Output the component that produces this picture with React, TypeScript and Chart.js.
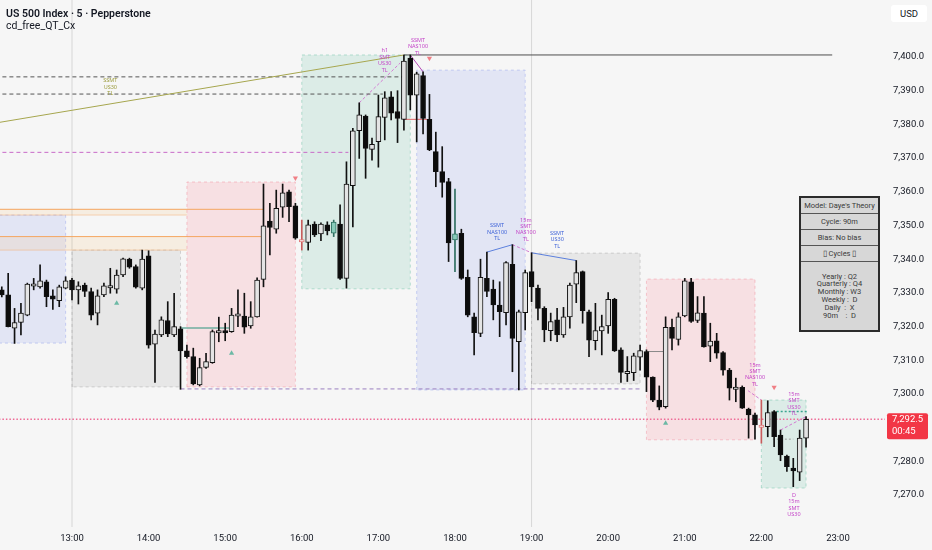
import React, { useEffect, useRef } from "react";
import { Chart, registerables } from "chart.js";

Chart.register(...registerables);

// 5-minute candles; x is counted in bars from 13:00 (bar -11 = 12:05)
const FIRST_BAR = -11;

const opens = [
  7330.9, 7329.4, 7319.5, 7321.2, 7323.4, 7332.2, 7331.8, 7333.3, 7329.1, 7327.7, 7331.4,
  7333.8, 7330.9, 7332.3, 7330.4, 7324.0, 7329.4, 7331.7, 7331.1, 7335.3, 7340.0, 7337.8, 7331.4,
  7341.0, 7314.8, 7317.5, 7321.8, 7317.5, 7319.3, 7312.8, 7311.1, 7302.7, 7307.9, 7309.3, 7318.4,
  7318.6, 7318.5, 7323.3, 7323.1, 7320.2, 7322.9, 7334.0, 7351.3, 7348.9, 7355.4, 7360.0, 7355.8,
  7345.2, 7345.0, 7350.4, 7347.5, 7350.2, 7347.7, 7350.4, 7334.3, 7361.8, 7378.1, 7382.5, 7372.6,
  7374.9, 7382.1, 7388.2, 7383.8, 7381.5, 7399.7, 7388.7, 7394.5, 7381.5, 7371.9, 7366.0, 7363.0,
  7345.7, 7347.7, 7334.6, 7322.9, 7318.0, 7334.3, 7331.1, 7326.4, 7324.1, 7338.5, 7315.5, 7324.1,
  7336.3, 7331.4, 7325.4, 7318.8, 7322.0, 7317.5, 7322.9, 7332.6, 7336.3, 7324.4, 7315.8, 7318.7,
  7320.2, 7328.1, 7313.1, 7306.3, 7306.3, 7310.9, 7312.6, 7305.0, 7298.2, 7296.2, 7319.8, 7316.2,
  7323.2, 7333.3, 7321.8, 7324.0, 7314.2, 7315.8, 7312.3, 7307.1, 7301.6, 7302.0, 7295.5, 7293.8,
  7290.1, 7290.3, 7294.8, 7287.8, 7281.6, 7278.0, 7276.8, 7286.9,
];
const highs = [
  7331.8, 7335.8, 7325.4, 7326.9, 7332.9, 7334.3, 7338.3, 7333.8, 7330.9, 7332.3, 7334.8,
  7334.3, 7333.3, 7332.9, 7331.4, 7330.9, 7332.9, 7337.3, 7336.8, 7340.3, 7340.3, 7338.3, 7342.7,
  7342.5, 7319.0, 7322.9, 7327.4, 7329.9, 7320.0, 7314.5, 7313.6, 7310.6, 7312.1, 7319.0, 7322.8,
  7321.0, 7325.4, 7330.9, 7329.9, 7327.4, 7334.5, 7362.3, 7356.6, 7360.5, 7362.3, 7360.5, 7356.6,
  7351.6, 7351.6, 7351.1, 7350.8, 7351.1, 7351.6, 7356.1, 7368.9, 7378.8, 7386.4, 7382.8, 7375.9,
  7388.7, 7389.7, 7389.7, 7390.0, 7400.6, 7400.6, 7395.5, 7395.6, 7388.9, 7377.7, 7373.4, 7364.0,
  7360.8, 7348.9, 7336.8, 7324.0, 7340.0, 7342.1, 7333.8, 7333.3, 7339.3, 7344.3, 7324.9, 7336.8,
  7341.9, 7332.3, 7325.9, 7324.0, 7325.4, 7325.7, 7332.9, 7339.6, 7336.5, 7324.9, 7326.9, 7323.4,
  7330.1, 7328.4, 7313.7, 7311.1, 7312.1, 7314.5, 7313.1, 7305.1, 7302.4, 7322.9, 7322.2, 7324.1,
  7334.3, 7334.3, 7328.9, 7328.9, 7321.0, 7318.0, 7312.6, 7307.6, 7304.7, 7302.4, 7295.8, 7294.3,
  7298.2, 7298.0, 7295.1, 7289.3, 7281.9, 7280.9, 7289.3, 7293.3,
];
const lows = [
  7328.8, 7319.9, 7315.0, 7317.5, 7323.2, 7330.9, 7331.4, 7325.9, 7325.1, 7325.9, 7331.2,
  7327.9, 7326.7, 7328.9, 7322.0, 7320.5, 7328.9, 7329.9, 7329.9, 7334.8, 7337.3, 7331.4, 7330.9,
  7313.6, 7303.4, 7317.0, 7317.0, 7317.0, 7301.4, 7310.6, 7302.7, 7302.4, 7307.6, 7309.1, 7315.5,
  7315.8, 7318.3, 7320.0, 7318.0, 7319.5, 7322.8, 7331.8, 7341.3, 7347.7, 7352.4, 7351.1, 7345.9,
  7342.7, 7342.7, 7346.7, 7345.5, 7347.2, 7346.7, 7334.0, 7331.4, 7349.6, 7369.9, 7364.0, 7369.4,
  7367.3, 7375.4, 7381.3, 7374.6, 7378.3, 7384.3, 7374.8, 7377.2, 7372.2, 7361.5, 7358.4, 7339.3,
  7336.3, 7334.0, 7322.9, 7311.6, 7317.0, 7328.9, 7322.0, 7317.0, 7320.5, 7306.6, 7301.2, 7319.0,
  7327.4, 7322.0, 7315.5, 7315.8, 7315.5, 7316.8, 7319.5, 7327.1, 7321.0, 7311.1, 7313.1, 7311.6,
  7318.0, 7312.6, 7303.4, 7303.7, 7304.0, 7307.1, 7300.7, 7297.7, 7295.3, 7295.8, 7313.1, 7314.5,
  7322.9, 7321.2, 7321.2, 7313.9, 7309.6, 7310.6, 7305.6, 7298.2, 7297.7, 7295.7, 7286.9, 7286.6,
  7285.4, 7287.3, 7284.4, 7280.2, 7277.0, 7272.5, 7274.3, 7284.2,
];
const closes = [
  7329.4, 7320.0, 7321.2, 7324.0, 7332.6, 7332.5, 7333.6, 7328.9, 7328.1, 7331.8, 7333.6,
  7330.9, 7332.1, 7330.4, 7323.4, 7329.1, 7332.1, 7332.0, 7335.3, 7340.1, 7337.6, 7331.7, 7340.0,
  7314.5, 7317.8, 7322.0, 7317.8, 7320.0, 7312.8, 7311.1, 7303.0, 7307.8, 7309.6, 7318.5, 7318.6,
  7318.4, 7323.4, 7323.6, 7319.8, 7322.9, 7333.8, 7349.9, 7349.4, 7355.1, 7359.7, 7355.6, 7346.2,
  7345.7, 7350.2, 7347.2, 7350.4, 7348.4, 7351.0, 7334.3, 7362.3, 7378.1, 7382.8, 7372.9, 7374.1,
  7382.3, 7387.9, 7383.3, 7381.8, 7398.8, 7388.7, 7395.0, 7381.8, 7372.4, 7366.0, 7362.8, 7344.8,
  7347.5, 7334.3, 7323.4, 7318.2, 7334.6, 7330.4, 7326.4, 7324.4, 7339.0, 7316.5, 7324.4, 7336.0,
  7331.8, 7325.4, 7319.0, 7321.5, 7317.5, 7322.9, 7332.3, 7336.0, 7324.7, 7316.0, 7318.8, 7320.0,
  7328.1, 7312.8, 7306.4, 7306.5, 7311.3, 7312.9, 7305.0, 7298.2, 7296.1, 7319.8, 7316.5, 7322.9,
  7333.6, 7321.5, 7324.1, 7314.0, 7315.7, 7312.1, 7307.1, 7301.7, 7301.8, 7295.8, 7293.8, 7290.8,
  7290.8, 7294.5, 7287.3, 7281.9, 7278.4, 7277.2, 7286.9, 7292.5,
];

// indicator-highlighted candles (bar numbers from 13:00)
const tealBars = [41, 60];
const pinkBars = [36, 108];

const timeTicks = ["13:00", "14:00", "15:00", "16:00", "17:00", "18:00", "19:00", "20:00", "21:00", "22:00", "23:00"];
const priceTicks = [7270, 7280, 7290, 7300, 7310, 7320, 7330, 7340, 7350, 7360, 7370, 7380, 7390, 7400];

const lastPrice = 7292.5;
const countdown = "00:45";

// 90-minute cycle boxes
const boxFrom = [-12, 0, 18, 36, 54, 72, 90, 108];
const boxTo = [-1, 17, 35, 53, 71, 89, 107, 115];
const boxTop = [7353.1, 7342.7, 7362.9, 7400.6, 7396.1, 7341.8, 7334.1, 7298.2];
const boxBottom = [7315.1, 7302.1, 7302.1, 7331.2, 7301.2, 7303.0, 7286.4, 7272.1];
const boxKind = ["blue", "gray", "pink", "green", "blue", "gray", "pink", "green"];

// faint orange zones
const bandFrom = [-12, -12];
const bandTo = [18, 18];
const bandTop = [7354.8, 7346.7];
const bandBottom = [7353.1, 7342.7];

// drawn segments
const segX0 = [-12, 52, -12, -12, -12, -12, -12, -12, -12, 17.1, 89.9, 17, 65, 72, 69, 45, 53, 51.9, 105.9, 111, 110.4, 109.8, 0, 72, -12];
const segY0 = [7380.4, 7400.6, 7394.1, 7389.0, 7371.7, 7354.8, 7346.7, 7353.1, 7342.7, 7319.6, 7312.6, 7301.5, 7342.1, 7341.9, 7344.3, 7386.4, 7400.6, 7381.5, 7301.0, 7289.3, 7294.8, 7286.6, 7255, 7255, 7292.5];
const segX1 = [52, 119.1, 51.9, 48.7, 43.3, 30, 30, 18, 18, 24.8, 92.8, 89, 69, 79, 72, 51.4, 55, 55.7, 108, 115, 115.1, 113, 0, 72, 128];
const segY1 = [7400.6, 7400.6, 7394.1, 7389.0, 7371.7, 7354.8, 7346.7, 7353.1, 7342.7, 7319.6, 7312.6, 7301.5, 7344.3, 7339.6, 7341.9, 7398.2, 7395.6, 7381.5, 7298.2, 7293.3, 7294.8, 7286.6, 7420, 7420, 7292.5];
const segKind = ["olive", "dark", "dashDark", "dashDark", "dashPink", "orange", "orange", "orangeFaint", "orangeFaint", "teal", "gray", "dashPurple", "blue", "blue", "smtDash", "smtDash", "magenta", "red", "smtDash", "smtDash", "dotTeal", "dotGray", "vline", "vline", "dotPrice"];

// signal triangles
const upX = [7, 25, 93];
const upY = [7326.9, 7312.1, 7291.3];
const downX = [35, 56, 110];
const downY = [7364.1, 7399.6, 7302.0];

// small SMT texts
const labelX = [6, 49, 54.2, 66.6, 71.1, 76, 107, 113.1, 113.1];
const labelY = [7392.9, 7401.8, 7404.9, 7349.9, 7351.6, 7347.7, 7308.6, 7299.9, 7269.9];
const labelLines = [
  ["SSMT", "US30", "TL"],
  ["h1", "SMT", "US30", "TL"],
  ["SSMT", "NAS100", "TL"],
  ["SSMT", "NAS100", "TL"],
  ["15m", "SMT", "NAS100", "TL"],
  ["SSMT", "US30", "TL"],
  ["15m", "SMT", "NAS100", "TL"],
  ["15m", "SMT", "US30", "TL"],
  ["D", "15m", "SMT", "US30"],
];
const labelKind = ["olive", "magenta", "magenta", "blue", "magenta", "blue", "magenta", "magenta", "magenta"];

const tableRows = ["Model: Daye's Theory", "Cycle: 90m", "Bias: No bias", "▯ Cycles ▯"];
const cycleLines = ["Yearly : Q2", "Quarterly : Q4", "Monthly : W3", "Weekly :  D", "Daily  :  X", "90m    :  D"];

// ---- scale ranges (pixel fit of the reference: plot 0..885 x 0..527)
const X_MIN = -11.28;
const X_MAX = 127.37;
const Y_MIN = 7260.53;
const Y_MAX = 7416.91;

const BOX_STYLE: Record<string, { fill: string; border: string }> = {
  blue: { fill: "rgba(113,133,233,0.15)", border: "rgba(113,133,233,0.35)" },
  gray: { fill: "rgba(140,140,140,0.14)", border: "rgba(140,140,140,0.35)" },
  pink: { fill: "rgba(255,93,113,0.14)", border: "rgba(240,110,130,0.35)" },
  green: { fill: "rgba(86,186,153,0.16)", border: "rgba(86,186,153,0.4)" },
};
const SEG_STYLE: Record<string, { color: string; width: number; dash: number[] }> = {
  olive: { color: "#a6a64e", width: 1, dash: [] },
  dark: { color: "#4d4d4d", width: 1, dash: [] },
  dashDark: { color: "#555", width: 1, dash: [4, 3] },
  dashPink: { color: "#c86ac8", width: 1, dash: [4, 3] },
  orange: { color: "#f4a55f", width: 1, dash: [] },
  orangeFaint: { color: "rgba(244,165,95,0.45)", width: 1, dash: [] },
  teal: { color: "#6fae9f", width: 1.5, dash: [] },
  gray: { color: "#8a8a8a", width: 1, dash: [] },
  dashPurple: { color: "#9a7fc0", width: 1, dash: [4, 3] },
  blue: { color: "#5b7fdc", width: 1, dash: [] },
  smtDash: { color: "#d27ad2", width: 1, dash: [3, 2] },
  magenta: { color: "#b449b4", width: 1, dash: [] },
  red: { color: "#e06666", width: 1, dash: [] },
  dotTeal: { color: "#3aa58f", width: 1.5, dash: [2, 2] },
  dotGray: { color: "#999", width: 1, dash: [2, 2] },
  dotPrice: { color: "#ee6a96", width: 1.5, dash: [1.5, 2] },
  vline: { color: "rgba(0,0,0,0.13)", width: 1, dash: [] },
};
const LABEL_COLOR: Record<string, string> = {
  olive: "#9a9a3a",
  magenta: "#c445c8",
  blue: "#3f63d8",
};
const FONT = 'Roboto, "Noto Sans", sans-serif';

const toBar = (t: string) => {
  const [h, m] = t.split(":").map(Number);
  return (h * 60 + m - 780) / 5;
};
const fmtTime = (b: number) => {
  const m = 780 + b * 5;
  const h = Math.floor(m / 60);
  const mm = Math.round(m % 60);
  return `${h}:${mm < 10 ? "0" + mm : mm}`;
};
const fmtPrice = (v: number) =>
  v.toLocaleString("en-US", { minimumFractionDigits: 1, maximumFractionDigits: 1 });

function buildDatasets() {
  const ds: any[] = [];
  const barX = opens.map((_, i) => FIRST_BAR + i);

  // boxes
  boxFrom.forEach((x0, i) => {
    const st = BOX_STYLE[boxKind[i]];
    const x1 = boxTo[i];
    ds.push({
      type: "line",
      data: [{ x: x0, y: boxTop[i] }, { x: x1, y: boxTop[i] }],
      fill: { value: boxBottom[i] },
      backgroundColor: st.fill,
      borderWidth: 0,
      pointRadius: 0,
      order: 20,
    });
    ds.push({
      type: "line",
      data: [
        { x: x0, y: boxBottom[i] },
        { x: x0, y: boxTop[i] },
        { x: x1, y: boxTop[i] },
        { x: x1, y: boxBottom[i] },
        { x: x0, y: boxBottom[i] },
      ],
      fill: false,
      borderColor: st.border,
      borderWidth: 1,
      borderDash: [3, 3],
      pointRadius: 0,
      order: 19,
    });
  });

  // orange zones
  bandFrom.forEach((x0, i) => {
    ds.push({
      type: "line",
      data: [{ x: x0, y: bandTop[i] }, { x: bandTo[i], y: bandTop[i] }],
      fill: { value: bandBottom[i] },
      backgroundColor: "rgba(250,190,120,0.16)",
      borderWidth: 0,
      pointRadius: 0,
      order: 18,
    });
  });

  // segments
  segX0.forEach((x0, i) => {
    const st = SEG_STYLE[segKind[i]];
    ds.push({
      type: "line",
      data: [{ x: x0, y: segY0[i] }, { x: segX1[i], y: segY1[i] }],
      fill: false,
      borderColor: st.color,
      borderWidth: st.width,
      borderDash: st.dash,
      pointRadius: 0,
      order: 10,
    });
  });

  const teal = (b: number) => tealBars.includes(b);
  const pink = (b: number) => pinkBars.includes(b);
  const up = (i: number) => closes[i] >= opens[i];

  // wicks
  ds.push({
    type: "bar",
    data: barX.map((b, i) => ({ x: b, y: [lows[i], highs[i]] })),
    backgroundColor: barX.map((b) => (teal(b) ? "#2f6f61" : pink(b) ? "#c85c5c" : "#111")),
    borderWidth: 0,
    barThickness: 1,
    grouped: false,
    order: 3,
  });
  // bodies
  ds.push({
    type: "bar",
    data: barX.map((b, i) => {
      let lo = Math.min(opens[i], closes[i]);
      let hi = Math.max(opens[i], closes[i]);
      if (hi - lo < 0.7) {
        const mid = (hi + lo) / 2;
        lo = mid - 0.35;
        hi = mid + 0.35;
      }
      return { x: b, y: [lo, hi] };
    }),
    backgroundColor: barX.map((b, i) =>
      teal(b) ? "#88ccba" : pink(b) ? "#f7eeee" : up(i) ? "#e4e4e4" : "#0c0c0c"
    ),
    borderColor: barX.map((b) => (teal(b) ? "#2f6f61" : pink(b) ? "#e07b7b" : "#111")),
    borderWidth: 1,
    borderSkipped: false,
    barThickness: 5,
    grouped: false,
    order: 2,
  });

  // triangles
  ds.push({
    type: "line",
    data: upX.map((x, i) => ({ x, y: upY[i] })),
    showLine: false,
    pointStyle: "triangle",
    pointRadius: 3,
    pointHoverRadius: 3,
    pointBackgroundColor: "#6cb9a5",
    pointBorderWidth: 0,
    order: 1,
  });
  ds.push({
    type: "line",
    data: downX.map((x, i) => ({ x, y: downY[i] })),
    showLine: false,
    pointStyle: "triangle",
    pointRotation: 180,
    pointRadius: 3,
    pointHoverRadius: 3,
    pointBackgroundColor: "#f07f85",
    pointBorderWidth: 0,
    order: 1,
  });
  return ds;
}

const overlayPlugin = {
  id: "overlayTexts",
  afterDatasetsDraw(chart: any) {
    const { ctx, scales } = chart;
    const x = scales.x;
    const y = scales.y;
    ctx.save();
    ctx.textAlign = "center";
    ctx.textBaseline = "middle";
    ctx.font = '5.5px "Noto Sans", sans-serif';
    labelX.forEach((lx, i) => {
      const px = x.getPixelForValue(lx);
      const py = y.getPixelForValue(labelY[i]);
      ctx.fillStyle = LABEL_COLOR[labelKind[i]];
      labelLines[i].forEach((t, j) => ctx.fillText(t, px, py + j * 6.4));
    });
    ctx.restore();
  },
  afterDraw(chart: any) {
    const { ctx, chartArea, scales } = chart;
    const py = scales.y.getPixelForValue(lastPrice);
    const left = chartArea.right + 2;
    const w = 41;
    const top = py - 6;
    const h = 26;
    ctx.save();
    ctx.fillStyle = "#f23645";
    ctx.beginPath();
    const r = 2;
    ctx.moveTo(left + r, top);
    ctx.lineTo(left + w - r, top);
    ctx.quadraticCurveTo(left + w, top, left + w, top + r);
    ctx.lineTo(left + w, top + h - r);
    ctx.quadraticCurveTo(left + w, top + h, left + w - r, top + h);
    ctx.lineTo(left + r, top + h);
    ctx.quadraticCurveTo(left, top + h, left, top + h - r);
    ctx.lineTo(left, top + r);
    ctx.quadraticCurveTo(left, top, left + r, top);
    ctx.fill();
    ctx.fillStyle = "#ffffff";
    ctx.font = `9.5px ${FONT}`;
    ctx.textAlign = "left";
    ctx.textBaseline = "middle";
    ctx.fillText(fmtPrice(lastPrice), chartArea.right + 7, py + 0.5);
    ctx.fillText(countdown, chartArea.right + 7, py + 12);
    ctx.restore();
  },
};

export default function App() {
  const ref = useRef<HTMLCanvasElement>(null);
  useEffect(() => {
    const chart = new Chart(ref.current as HTMLCanvasElement, {
      type: "bar",
      data: { datasets: buildDatasets() },
      options: {
        animation: false,
        responsive: false,
        maintainAspectRatio: false,
        events: [],
        layout: { padding: 0, autoPadding: false },
        plugins: { legend: { display: false }, tooltip: { enabled: false } },
        scales: {
          x: {
            type: "linear",
            min: X_MIN,
            max: X_MAX,
            offset: false,
            grid: { display: false, drawTicks: false },
            border: { display: false },
            afterBuildTicks: (s: any) => {
              s.ticks = timeTicks.map((t) => ({ value: toBar(t) }));
            },
            afterFit: (s: any) => {
              s.height = 23;
              s.paddingLeft = 0;
              s.paddingRight = 0;
            },
            ticks: {
              autoSkip: false,
              maxRotation: 0,
              padding: 6,
              color: "#131722",
              font: { size: 9.5, family: FONT },
              callback: (v: any) => fmtTime(Number(v)),
            },
          },
          y: {
            type: "linear",
            position: "right",
            min: Y_MIN,
            max: Y_MAX,
            grid: { display: false, drawTicks: false },
            border: { display: false },
            afterBuildTicks: (s: any) => {
              s.ticks = priceTicks.map((v) => ({ value: v }));
            },
            afterFit: (s: any) => {
              s.width = 47;
              s.paddingTop = 0;
              s.paddingBottom = 0;
            },
            ticks: {
              padding: 8,
              color: "#131722",
              font: { size: 9.5, family: FONT },
              callback: (v: any) => fmtPrice(Number(v)),
            },
          },
        },
      },
      plugins: [overlayPlugin],
    } as any);
    return () => chart.destroy();
  }, []);

  return (
    <div
      style={{
        position: "fixed",
        left: 0,
        top: 0,
        width: 932,
        height: 550,
        background: "#f6f6f6",
        overflow: "hidden",
        fontFamily: FONT,
        color: "#131722",
      }}
    >
      <canvas ref={ref} width={932} height={550} style={{ position: "absolute", left: 0, top: 0 }} />
      <div style={{ position: "absolute", left: 6, top: 7, fontSize: 10.5, lineHeight: "14px", fontWeight: 600, whiteSpace: "nowrap" }}>
        US 500 Index · 5 · Pepperstone
      </div>
      <div style={{ position: "absolute", left: 6, top: 19, fontSize: 10.5, lineHeight: "14px", whiteSpace: "nowrap" }}>
        cd_free_QT_Cx
      </div>
      <div
        style={{
          position: "absolute",
          left: 891,
          top: 5,
          width: 36,
          height: 17,
          background: "#ffffff",
          borderRadius: 3,
          fontSize: 9.5,
          lineHeight: "17px",
          textAlign: "center",
        }}
      >
        USD
      </div>
      <div
        style={{
          position: "absolute",
          left: 799,
          top: 196,
          width: 81,
          height: 136,
          boxSizing: "border-box",
          border: "2px solid #2b2b2b",
          background: "#d7d7d7",
          fontSize: 7.5,
          color: "#3a3a3a",
          textAlign: "center",
          display: "flex",
          flexDirection: "column",
        }}
      >
        {tableRows.map((r) => (
          <div
            key={r}
            style={{ height: 16, lineHeight: "15px", borderBottom: "1.5px solid #555", boxSizing: "border-box", whiteSpace: "nowrap" }}
          >
            {r}
          </div>
        ))}
        <div style={{ flex: 1, display: "flex", flexDirection: "column", justifyContent: "center", lineHeight: "7.8px", whiteSpace: "pre" }}>
          {cycleLines.map((l) => (
            <div key={l}>{l}</div>
          ))}
        </div>
      </div>
    </div>
  );
}
